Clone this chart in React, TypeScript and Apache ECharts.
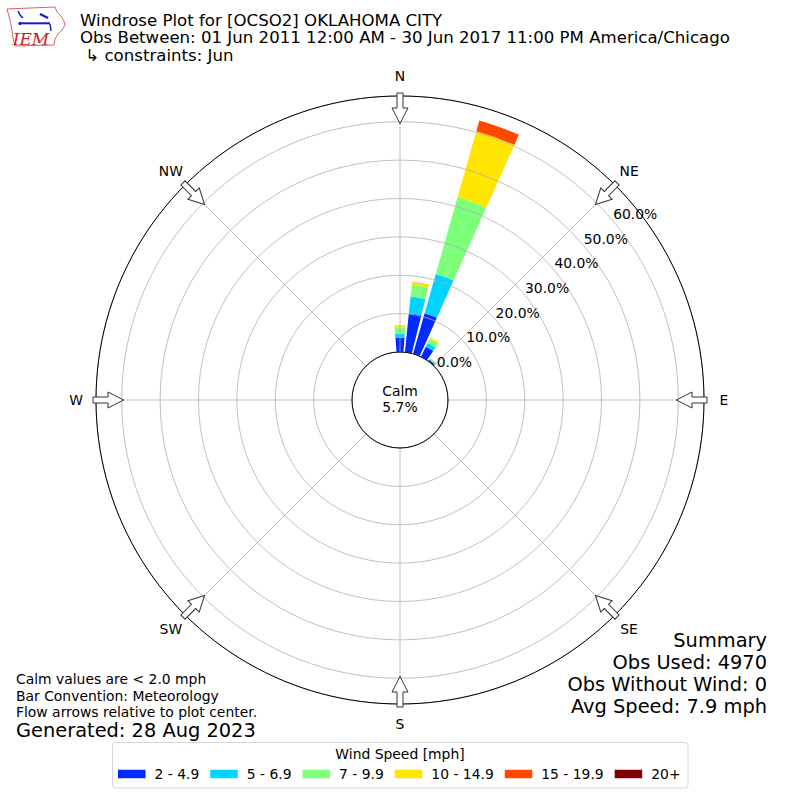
import React, { useEffect, useRef } from "react";
import * as echarts from "echarts";

const FONT = "'DejaVu Sans', Verdana, sans-serif";

// Direction bins (degrees, meteorological convention)
const directions = [
  "0", "10", "20", "30", "40", "50", "60", "70", "80", "90", "100", "110",
  "120", "130", "140", "150", "160", "170", "180", "190", "200", "210", "220", "230",
  "240", "250", "260", "270", "280", "290", "300", "310", "320", "330", "340", "350",
];

// Only these bins have any observations
const observedDirections = ["0", "10", "20", "30", "40"];

const speedBins = ["2 - 4.9", "5 - 6.9", "7 - 9.9", "10 - 14.9", "15 - 19.9", "20+"];
const binColors = ["#002aff", "#00d4ff", "#7dff7a", "#ffe600", "#ff4800", "#800000"];

// Percent of observations per observed direction (N, 10, 20, 30, 40 degrees)
const speed2to5 = [3.8, 10.2, 11.0, 2.9, 0.45];
const speed5to7 = [1.0, 4.4, 10.6, 1.1, 0.2];
const speed7to10 = [1.5, 3.1, 20.8, 1.2, 0.2];
const speed10to15 = [0.55, 0.7, 17.9, 0.4, 0.15];
const speed15to20 = [0.05, 0.05, 2.9, 0.0, 0.0];
const speed20plus = [0, 0, 0, 0, 0];

const radiusMax = 66.7;
const ringInterval = 10;

const compassLabels = ["N", "NE", "E", "SE", "S", "SW", "W", "NW"];
const compassAngles = [0, 45, 90, 135, 180, 225, 270, 315];

const titleLines = [
  "Windrose Plot for [OCSO2] OKLAHOMA CITY",
  "Obs Between: 01 Jun 2011 12:00 AM - 30 Jun 2017 11:00 PM America/Chicago",
  " \u21b3 constraints: Jun",
];
const footnoteLines = [
  "Calm values are < 2.0 mph",
  "Bar Convention: Meteorology",
  "Flow arrows relative to plot center.",
];
const generatedText = "Generated: 28 Aug 2023";
const summaryLines = ["Summary", "Obs Used: 4970", "Obs Without Wind: 0", "Avg Speed: 7.9 mph"];
const calmLines = ["Calm", "5.7%"];
const legendTitle = "Wind Speed [mph]";

const CX = 400;
const CY = 400;
const R0 = 48;
const R1 = 304;

function txt(text: string, x: number, y: number, size: number, align: string, z = 20, extra: any = {}) {
  return {
    type: "text",
    x,
    y,
    z,
    silent: true,
    style: {
      text,
      font: `${size}px ${FONT}`,
      fill: "#000",
      lineHeight: size,
      textAlign: align,
      textVerticalAlign: "middle",
      align,
      verticalAlign: "middle",
      ...extra,
    },
  };
}

export default function App() {
  const ref = useRef<HTMLDivElement>(null);

  useEffect(() => {
    if (!ref.current) return;
    const chart = echarts.init(ref.current, undefined, { renderer: "svg" });

    const binValues = [speed2to5, speed5to7, speed7to10, speed10to15, speed15to20, speed20plus];
    const fullData = binValues.map((vals) =>
      directions.map((d) => {
        const k = observedDirections.indexOf(d);
        return k >= 0 ? vals[k] : 0;
      })
    );

    const series = speedBins.map((name, i) => ({
      type: "bar",
      name,
      coordinateSystem: "polar",
      polarIndex: 0,
      stack: "wind",
      data: fullData[i],
      barCategoryGap: "17%",
      itemStyle: { color: binColors[i] },
      silent: true,
      z: 2,
    }));

    const hiddenAxisParts = {
      axisLine: { show: false },
      axisTick: { show: false },
      axisLabel: { show: false },
      splitLine: { show: false },
    };

    const arrowPoints = [
      [-3, -307],
      [3, -307],
      [3, -292],
      [8, -292],
      [0, -276.5],
      [-8, -292],
      [-3, -292],
    ];

    const graphic: any[] = [];

    // Title lines
    titleLines.forEach((t, i) => graphic.push(txt(t, 80, 20 + i * 17.5, 16.6, "left")));

    // Compass labels + flow arrows
    compassLabels.forEach((lab, i) => {
      const a = (compassAngles[i] * Math.PI) / 180;
      graphic.push(txt(lab, CX + 324 * Math.sin(a), CY - 324 * Math.cos(a), 13.9, "center"));
      graphic.push({
        type: "group",
        x: CX,
        y: CY,
        rotation: -a,
        z: 15,
        silent: true,
        children: [
          {
            type: "polygon",
            z: 15,
            shape: { points: arrowPoints },
            style: { fill: "#fff", stroke: "#333", lineWidth: 1 },
          },
        ],
      });
    });

    // Calm text
    graphic.push(txt(calmLines[0], CX, 391, 13.9, "center"));
    graphic.push(txt(calmLines[1], CX, 407, 13.9, "center"));

    // Footnotes
    footnoteLines.forEach((t, i) => graphic.push(txt(t, 16, 679 + i * 16.5, 13.9, "left")));
    graphic.push(txt(generatedText, 16, 730, 19.4, "left"));

    // Summary
    summaryLines.forEach((t, i) => graphic.push(txt(t, 767, 640 + i * 22, 19.4, "right")));

    // Legend box and title
    graphic.push({
      type: "rect",
      z: 0,
      silent: true,
      shape: { x: 112.5, y: 742.5, width: 575.5, height: 45.5, r: 3 },
      style: { fill: "#fff", stroke: "#d6d6d6", lineWidth: 1 },
    });
    graphic.push(txt(legendTitle, 400, 754, 13.9, "center", 5));

    // IEM logo
    graphic.push({
      type: "polygon",
      z: 20,
      silent: true,
      shape: {
        points: [
          [7, 9], [30, 8], [55, 7], [57, 12], [61, 16], [64, 21], [65, 25], [62, 30],
          [58, 34], [55, 39], [54, 45], [15, 46], [13, 38], [12, 30], [10, 20],
        ],
      },
      style: { fill: "none", stroke: "#e06060", lineWidth: 1 },
    });
    graphic.push({
      type: "line", z: 21, silent: true,
      shape: { x1: 21, y1: 23.3, x2: 50, y2: 23.3 },
      style: { stroke: "#1a1acc", lineWidth: 2 },
    });
    graphic.push({
      type: "polyline", z: 21, silent: true,
      shape: { points: [[18, 11], [20, 15], [23, 18]] },
      style: { stroke: "#1a1acc", lineWidth: 1.5, fill: "none" },
    });
    graphic.push({
      type: "circle", z: 21, silent: true,
      shape: { cx: 20, cy: 23.5, r: 1.6 },
      style: { fill: "#1a1acc" },
    });
    graphic.push({
      type: "line", z: 21, silent: true,
      shape: { x1: 40, y1: 14, x2: 48, y2: 18 },
      style: { stroke: "#1a1acc", lineWidth: 2.5 },
    });
    graphic.push({
      type: "line", z: 21, silent: true,
      shape: { x1: 50, y1: 24, x2: 51, y2: 31 },
      style: { stroke: "#1a1acc", lineWidth: 1.5 },
    });
    graphic.push(
      txt("IEM", 31, 39, 17, "center", 21, {
        font: `italic 17px 'DejaVu Serif', 'Liberation Serif', serif`,
        fill: "#cc2222",
      })
    );

    const option: any = {
      animation: false,
      backgroundColor: "#fff",
      polar: [
        { center: [CX, CY], radius: [R0, R1] },
        { center: [CX, CY], radius: [R0, R1] },
        { center: [CX, CY], radius: [R0, R1] },
      ],
      angleAxis: [
        {
          polarIndex: 0,
          type: "category",
          data: directions,
          startAngle: 95,
          clockwise: true,
          boundaryGap: true,
          ...hiddenAxisParts,
        },
        {
          polarIndex: 1,
          type: "value",
          min: 0,
          max: 360,
          interval: 45,
          startAngle: 90,
          clockwise: true,
          z: 5,
          axisLine: { show: true, lineStyle: { color: "#000", width: 1 } },
          axisTick: { show: false },
          axisLabel: { show: false },
          splitLine: { show: true, lineStyle: { color: "#b0b0b0", width: 0.8 } },
        },
        {
          polarIndex: 2,
          type: "value",
          min: 0,
          max: 360,
          startAngle: 40,
          clockwise: true,
          ...hiddenAxisParts,
        },
      ],
      radiusAxis: [
        {
          polarIndex: 0,
          type: "value",
          min: 0,
          max: radiusMax,
          ...hiddenAxisParts,
        },
        {
          polarIndex: 1,
          type: "value",
          min: 0,
          max: radiusMax,
          interval: ringInterval,
          z: 4,
          axisLine: { show: false },
          axisTick: { show: false },
          axisLabel: { show: false },
          splitLine: { show: true, lineStyle: { color: "#b0b0b0", width: 0.8 } },
        },
        {
          polarIndex: 2,
          type: "value",
          min: 0,
          max: radiusMax,
          interval: ringInterval,
          z: 6,
          axisLine: { show: false },
          axisTick: { show: false },
          splitLine: { show: false },
          axisLabel: {
            show: true,
            margin: 0,
            align: "left",
            verticalAlign: "bottom",
            color: "#000",
            fontSize: 13.9,
            fontFamily: FONT,
            formatter: (v: number) =>
              Math.abs(v % ringInterval) < 1e-6 ? `${v.toFixed(1)}%` : "",
          },
        },
      ],
      legend: {
        data: speedBins,
        left: 118,
        top: 767,
        icon: "rect",
        itemWidth: 27.5,
        itemHeight: 8.5,
        itemGap: 11,
        selectedMode: false,
        padding: 0,
        z: 6,
        textStyle: {
          fontSize: 13.9,
          fontFamily: FONT,
          color: "#000",
          padding: [0, 0, 0, 4],
        },
      },
      graphic,
      series,
    };

    chart.setOption(option);
    return () => chart.dispose();
  }, []);

  return (
    <div
      ref={ref}
      style={{ position: "fixed", left: 0, top: 0, width: 800, height: 800, background: "#fff" }}
    />
  );
}
